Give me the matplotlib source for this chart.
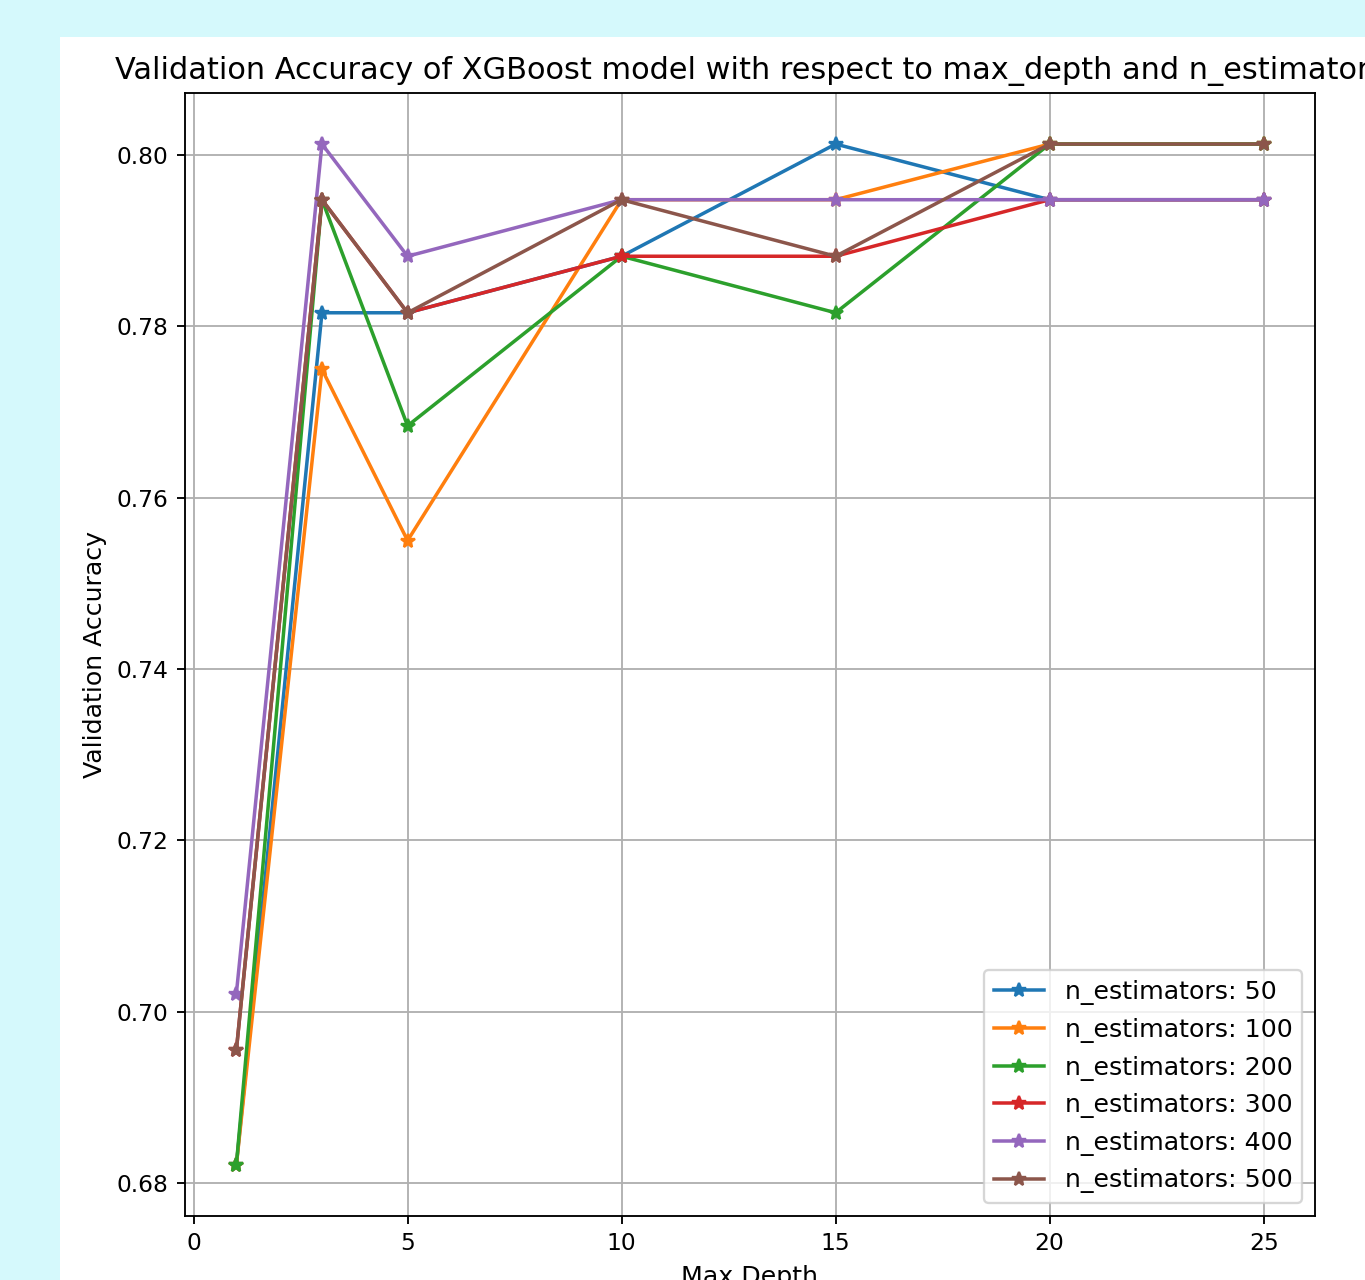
import matplotlib
matplotlib.use("Agg")
import matplotlib.pyplot as plt
from matplotlib.patches import Rectangle

max_depths = [1, 3, 5, 10, 15, 20, 25]
n_estimators = [50, 100, 200, 300, 400, 500]

acc_50 = [0.6821, 0.7816, 0.7816, 0.7882, 0.8013, 0.7948, 0.7948]
acc_100 = [0.6821, 0.7750, 0.7550, 0.7948, 0.7948, 0.8013, 0.8013]
acc_200 = [0.6821, 0.7948, 0.7684, 0.7882, 0.7816, 0.8013, 0.8013]
acc_300 = [0.6955, 0.7948, 0.7816, 0.7882, 0.7882, 0.7948, 0.7948]
acc_400 = [0.7021, 0.8013, 0.7882, 0.7948, 0.7948, 0.7948, 0.7948]
acc_500 = [0.6955, 0.7948, 0.7816, 0.7948, 0.7882, 0.8013, 0.8013]

results = [acc_50, acc_100, acc_200, acc_300, acc_400, acc_500]

dpi = 168
fig = plt.figure(figsize=(1365 / dpi, 1280 / dpi), dpi=dpi, facecolor="#d5f9fc")

# white canvas behind the axes
fig.patches.append(Rectangle((60 / 1365, 0), 1 - 60 / 1365, 1 - 37 / 1280,
                             transform=fig.transFigure, facecolor="white",
                             edgecolor="none", zorder=-1))

ax = fig.add_axes([185 / 1365, 1 - 1216 / 1280, 1130 / 1365, 1123 / 1280])
for n, acc in zip(n_estimators, results):
    ax.plot(max_depths, acc, marker="*", label=f"n_estimators: {n}")

ax.set_title("Validation Accuracy of XGBoost model with respect to max_depth and n_estimators",
             fontsize=13)
ax.set_xlabel("Max Depth", fontsize=10.8)
ax.set_ylabel("Validation Accuracy", fontsize=10.8)
ax.grid(True)
ax.legend(loc="lower right", fontsize=10.8)

fig.savefig("out.png", dpi=dpi, facecolor=fig.get_facecolor())
